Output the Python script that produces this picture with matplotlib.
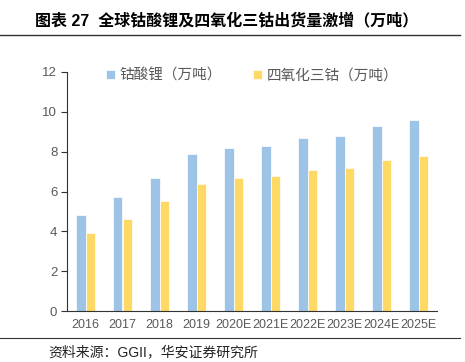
import matplotlib
matplotlib.use("Agg")
import matplotlib.pyplot as plt
import numpy as np

plt.rcParams["font.family"] = ["Liberation Sans", "Noto Sans CJK SC", "DejaVu Sans"]

years = ["2016", "2017", "2018", "2019", "2020E", "2021E", "2022E", "2023E", "2024E", "2025E"]
lco = [4.8, 5.7, 6.7, 7.9, 8.2, 8.3, 8.7, 8.8, 9.3, 9.6]
co3o4 = [3.9, 4.6, 5.5, 6.4, 6.7, 6.8, 7.1, 7.2, 7.6, 7.8]


def main():
    fig = plt.figure(figsize=(4.65, 3.62), dpi=100)
    ax = fig.add_axes([67 / 465, 1 - 311 / 362, 370 / 465, 239 / 362])

    x = np.arange(len(years))
    w = 0.27
    ax.bar(x - w / 2, lco, w, color="#9DC3E6", edgecolor="white", linewidth=0.5, label="钴酸锂（万吨）")
    ax.bar(x + w / 2, co3o4, w, color="#FFD966", edgecolor="white", linewidth=0.5, label="四氧化三钴（万吨）")

    ax.set_xlim(-0.5, len(years) - 0.5)
    ax.set_ylim(0, 12)
    ax.set_yticks(range(0, 13, 2))
    ax.set_xticks(x)
    ax.set_xticklabels(years)
    ax.tick_params(axis="x", length=0, labelsize=9, colors="#595959", pad=6)
    ax.tick_params(axis="y", length=4, labelsize=9.5, colors="#595959", pad=3)
    ax.tick_params(axis="y", color="#333333")
    for s in ["top", "right"]:
        ax.spines[s].set_visible(False)
    ax.spines["left"].set_color("#333333")
    ax.spines["bottom"].set_color("#333333")

    ax.legend(loc="upper center", bbox_to_anchor=(0.5, 1.07), ncol=2, frameon=False,
              fontsize=10.5, labelcolor="#595959", handlelength=0.6, handleheight=0.6,
              handletextpad=0.3, columnspacing=2.2)

    fig.text(35 / 465, 1 - 20 / 362, "图表 27  全球钴酸锂及四氧化三钴出货量激增（万吨）",
             fontsize=11.5, fontweight="bold", va="center", ha="left")
    fig.add_artist(plt.Line2D([0, 460 / 465], [1 - 35 / 362, 1 - 35 / 362], color="#333333", linewidth=1))
    fig.add_artist(plt.Line2D([0, 460 / 465], [1 - 338 / 362, 1 - 338 / 362], color="#333333", linewidth=0.8))
    fig.text(48 / 465, 1 - 352 / 362, "资料来源：GGII，华安证券研究所",
             fontsize=10, va="center", ha="left", color="#222222")

    fig.savefig("out.png", dpi=100)


if __name__ == "__main__":
    main()
